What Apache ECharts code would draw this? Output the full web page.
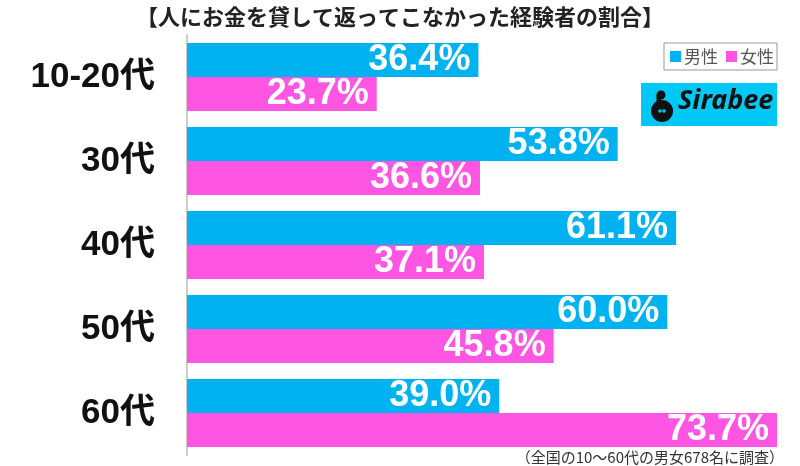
<!DOCTYPE html>
<html><head><meta charset="utf-8">
<script src="https://cdn.jsdelivr.net/npm/echarts@6/dist/echarts.min.js"></script>
<style>html,body{margin:0;padding:0;background:#fff}#c{width:800px;height:466px}</style>
</head><body><div id="c"></div>
<script>
const categories = ['10-20代', '30代', '40代', '50代', '60代'];
const male = [36.4, 53.8, 61.1, 60.0, 39.0];
const female = [23.7, 36.6, 37.1, 45.8, 73.7];
const seriesNames = ['男性', '女性'];
const titleText = '【人にお金を貸して返ってこなかった経験者の割合】';
const noteText = '（全国の10〜60代の男女678名に調査）';

const FONT = '"Noto Sans CJK JP", "Noto Sans", sans-serif';
const chart = echarts.init(document.getElementById('c'));
const lbl = {
  show: true, position: 'insideRight', distance: 8, color: '#fff',
  fontSize: 36, fontWeight: 'bold', fontFamily: '"Liberation Sans", Arial, sans-serif',
  formatter: p => p.value.toFixed(1) + '%'
};
chart.setOption({
  animation: false,
  title: { text: titleText, left: 'center', top: 1,
    textStyle: { fontSize: 22, fontWeight: 'bold', color: '#222', fontFamily: FONT } },
  legend: { data: seriesNames, right: 23, top: 43, itemWidth: 11, itemHeight: 11, itemGap: 8,
    borderColor: '#999', borderWidth: 1, padding: [5, 3, 5, 6], icon: 'rect',
    textStyle: { fontSize: 17, color: '#555', fontFamily: FONT, padding: [0, 0, 0, -2] } },
  grid: { left: 187, right: 23, top: 35, bottom: 11, containLabel: false },
  xAxis: { type: 'value', min: 0, max: 73.7, show: false },
  yAxis: { type: 'category', data: categories, inverse: true,
    axisLine: { show: true, lineStyle: { color: '#ccc', width: 2 } },
    axisTick: { show: false },
    axisLabel: { margin: 32, fontSize: 35, fontWeight: 'bold', color: '#111',
      fontFamily: '"Liberation Sans", "Noto Sans CJK JP", sans-serif' } },
  series: [
    { name: seriesNames[0], type: 'bar', data: male, barWidth: 34, barGap: '0%',
      itemStyle: { color: '#00B2F0' }, label: lbl },
    { name: seriesNames[1], type: 'bar', data: female, barWidth: 34,
      itemStyle: { color: '#FF55E3' }, label: lbl }
  ],
  graphic: [
    { type: 'rect', shape: { x: 641, y: 83, width: 136, height: 43 }, style: { fill: '#00C8F5' } },
    { type: 'circle', shape: { cx: 662, cy: 111, r: 11 }, style: { fill: '#111' } },
    { type: 'circle', shape: { cx: 661, cy: 95, r: 4.5 }, style: { fill: '#111' } },
    { type: 'rect', shape: { x: 656.5, y: 95, width: 4.5, height: 10 }, style: { fill: '#111' } },
    { type: 'circle', shape: { cx: 660, cy: 111, r: 1.8 }, style: { fill: '#00C8F5' } },
    { type: 'circle', shape: { cx: 664, cy: 111, r: 1.8 }, style: { fill: '#00C8F5' } },
    { type: 'text', left: 678, top: 88, style: { text: 'Sirabee', fill: '#111',
      font: 'italic bold 27px "Noto Sans", sans-serif' } },
    { type: 'text', right: 16, bottom: 1, style: { text: noteText, fill: '#333',
      font: '15px "Noto Sans CJK JP", sans-serif' } }
  ]
});
</script></body></html>
